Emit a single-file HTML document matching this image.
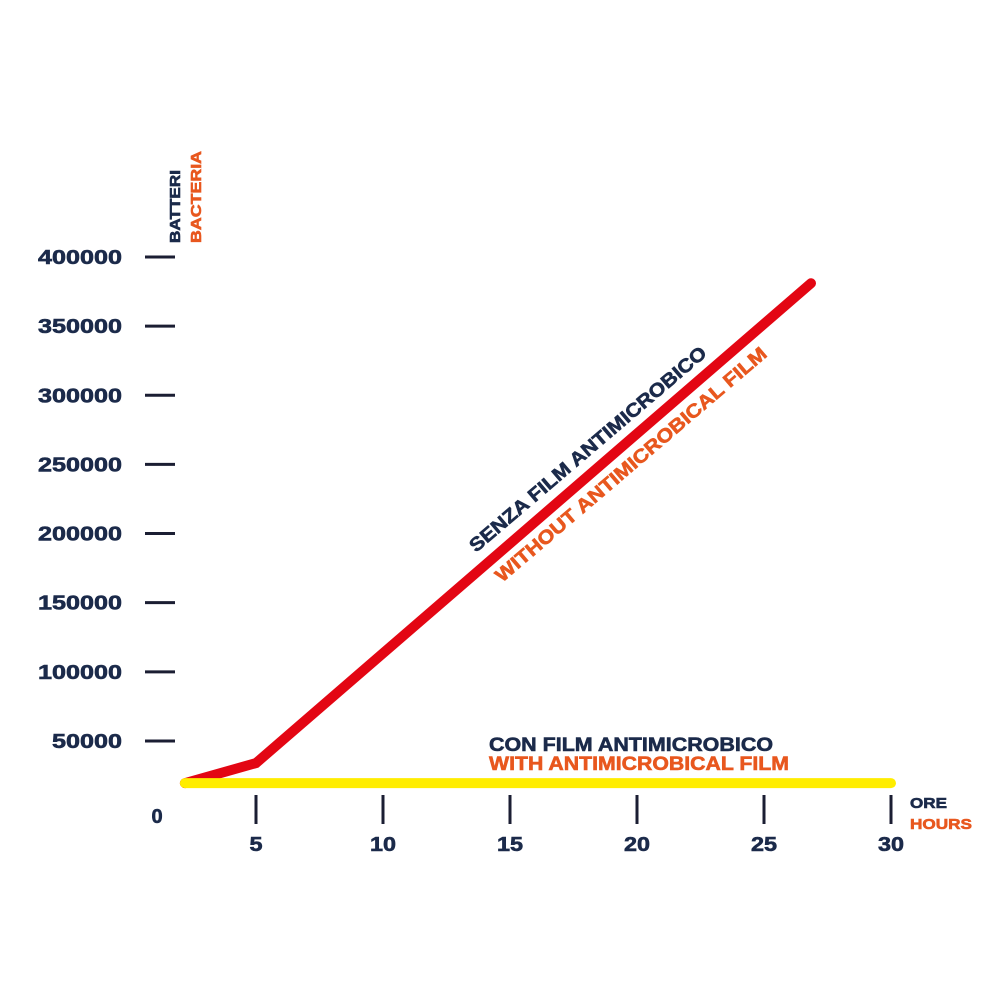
<!DOCTYPE html>
<html><head><meta charset="utf-8"><style>
html,body{margin:0;padding:0;background:#fff;}
svg{display:block;font-family:"Liberation Sans",sans-serif;font-weight:bold;}
text{paint-order:stroke;stroke-width:0.6;}
</style></head><body>
<svg id="chart" width="1000" height="1000" viewBox="0 0 1000 1000">
<g id="axes"></g>
<g id="series"></g>
<text transform="translate(180,243) rotate(-90)" font-size="15" fill="#1b2a4a" stroke="#1b2a4a" textLength="73" lengthAdjust="spacingAndGlyphs">BATTERI</text>
<text transform="translate(201,243) rotate(-90)" font-size="15" fill="#e8571e" stroke="#e8571e" textLength="92" lengthAdjust="spacingAndGlyphs">BACTERIA</text>
<text x="910" y="808" font-size="15" fill="#1b2a4a" stroke="#1b2a4a" textLength="37" lengthAdjust="spacingAndGlyphs">ORE</text>
<text x="910" y="829" font-size="15" fill="#e8571e" stroke="#e8571e" textLength="62" lengthAdjust="spacingAndGlyphs">HOURS</text>
<text transform="translate(476,553) rotate(-40.5)" font-size="19" fill="#1b2a4a" stroke="#1b2a4a" textLength="305" lengthAdjust="spacingAndGlyphs">SENZA FILM ANTIMICROBICO</text>
<text transform="translate(502,583) rotate(-40.5)" font-size="19" fill="#e8571e" stroke="#e8571e" textLength="350" lengthAdjust="spacingAndGlyphs">WITHOUT ANTIMICROBICAL FILM</text>
<text x="489" y="751" font-size="19" fill="#1b2a4a" stroke="#1b2a4a" textLength="284" lengthAdjust="spacingAndGlyphs">CON FILM ANTIMICROBICO</text>
<text x="489" y="770" font-size="19" fill="#e8571e" stroke="#e8571e" textLength="300" lengthAdjust="spacingAndGlyphs">WITH ANTIMICROBICAL FILM</text>
</svg>
<script>
const yTicks = [50000,100000,150000,200000,250000,300000,350000,400000];
const xTicks = [5,10,15,20,25,30];
const withoutHours = [2.2,5,26.85];
const withoutValues = [19500,34000,381000];
const withHours = [2.2,30];
const withValues = [19500,19500];
const NS="http://www.w3.org/2000/svg";
function xs(h){return 129+h*25.4;}
function ys(v){return 810.1-v*(69.14/50000);}
const axes=document.getElementById('axes'), series=document.getElementById('series');
function mk(tag,attrs,parent){const e=document.createElementNS(NS,tag);for(const k in attrs)e.setAttribute(k,attrs[k]);parent.appendChild(e);return e;}
yTicks.forEach(v=>{
  const l=mk('line',{x1:145,x2:175,y1:ys(v),y2:ys(v),stroke:'#1b1e33','stroke-width':3},axes);
  
  
  const len=String(v).length*14;
  const t=mk('text',{x:122-len,y:ys(v)+7,'font-size':20,fill:'#1b2a4a',stroke:'#1b2a4a',textLength:len,lengthAdjust:'spacingAndGlyphs'},axes);
  
  
  t.textContent=v;
});
const z=mk('text',{x:157,y:823,'text-anchor':'middle','font-size':20,fill:'#1b2a4a',stroke:'#1b2a4a'},axes);


z.textContent='0';
xTicks.forEach(h=>{
  const l=mk('line',{x1:xs(h),x2:xs(h),y1:795,y2:824,stroke:'#1b1e33','stroke-width':3},axes);
  
  
  const len=String(h).length*13;
  const t=mk('text',{x:xs(h)-len/2,y:851,'font-size':20,fill:'#1b2a4a',stroke:'#1b2a4a',textLength:len,lengthAdjust:'spacingAndGlyphs'},axes);
  
  
  t.textContent=h;
});
const red=mk('polyline',{points:withoutHours.map((h,i)=>xs(h)+','+ys(withoutValues[i])).join(' '),fill:'none',stroke:'#e30613','stroke-width':10,'stroke-linecap':'round','stroke-linejoin':'miter'},series);


const yel=mk('polyline',{points:withHours.map((h,i)=>xs(h)+','+ys(withValues[i])).join(' '),fill:'none',stroke:'#ffed00','stroke-width':10,'stroke-linecap':'round'},series);


</script>
</body></html>
